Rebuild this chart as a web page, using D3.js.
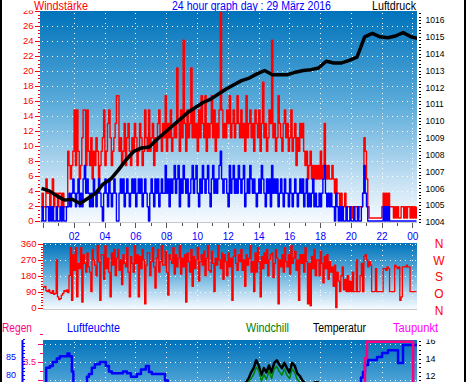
<!DOCTYPE html>
<html>
<head>
<meta charset="utf-8">
<script src="https://cdn.jsdelivr.net/npm/d3@7"></script>
<style>
  body { margin: 0; background: #fff; }
  svg { display: block; }
</style>
</head>
<body>
<div id="chart"></div>
<script>
// samples start just before midnight; wind every 5 minutes, temperature every 10
const sampleStart = -0.15;
const fastStep = 1 / 12;
const slowStep = 1 / 6;

// wind gusts (red) and mean wind (blue), km/h, one row per hour
const gust = [
    1.9, 3.7, 1.9, 1.9, 5.6, 3.7, 3.7, 1.9, 3.7, 5.6, 1.9, 3.7,
    3.7, 1.9, 3.7, 3.7, 1.9, 3.7, 1.9, 1.9, 1.9, 9.3, 7.4, 5.6,
    7.4, 9.3, 14.8, 7.4, 14.8, 9.3, 5.6, 7.4, 11.1, 14.8, 14.8, 7.4,
    14.8, 9.3, 7.4, 11.1, 5.6, 9.3, 7.4, 11.1, 9.3, 5.6, 7.4, 9.3,
    11.1, 14.8, 7.4, 9.3, 13.0, 14.8, 11.1, 7.4, 9.3, 11.1, 13.0, 16.7,
    16.7, 9.3, 11.1, 7.4, 9.3, 13.0, 7.4, 11.1, 13.0, 9.3, 7.4, 11.1,
    9.3, 13.0, 11.1, 7.4, 9.3, 13.0, 11.1, 7.4, 9.3, 14.8, 11.1, 9.3,
    14.8, 9.3, 11.1, 13.0, 7.4, 11.1, 9.3, 13.0, 14.8, 11.1, 9.3, 13.0,
    11.1, 16.7, 9.3, 13.0, 11.1, 14.8, 9.3, 11.1, 13.0, 11.1, 20.4, 13.0,
    9.3, 14.8, 11.1, 24.1, 13.0, 9.3, 14.8, 11.1, 13.0, 20.4, 11.1, 14.8,
    11.1, 13.0, 9.3, 14.8, 11.1, 16.7, 13.0, 11.1, 16.7, 9.3, 13.0, 11.1,
    13.0, 16.7, 11.1, 14.8, 9.3, 13.0, 11.1, 14.8, 27.8, 14.8, 11.1, 13.0,
    11.1, 14.8, 13.0, 16.7, 11.1, 13.0, 14.8, 11.1, 13.0, 16.7, 13.0, 11.1,
    14.8, 11.1, 13.0, 9.3, 16.7, 11.1, 13.0, 14.8, 11.1, 13.0, 9.3, 14.8,
    13.0, 11.1, 14.8, 9.3, 13.0, 18.5, 11.1, 13.0, 9.3, 11.1, 14.8, 13.0,
    24.1, 11.1, 13.0, 9.3, 11.1, 16.7, 13.0, 11.1, 9.3, 13.0, 14.8, 11.1,
    13.0, 9.3, 11.1, 14.8, 9.3, 11.1, 13.0, 7.4, 11.1, 9.3, 13.0, 11.1,
    13.0, 9.3, 7.4, 9.3, 5.6, 7.4, 9.3, 5.6, 7.4, 5.6, 7.4, 5.6,
    7.4, 5.6, 9.3, 5.6, 7.4, 13.0, 7.4, 5.6, 7.4, 5.6, 5.6, 7.4,
    5.6, 3.7, 5.6, 3.7, 3.7, 1.9, 3.7, 1.9, 1.9, 3.7, 1.9, 1.9,
    1.9, 1.9, 1.9, 0.4, 1.9, 1.9, 1.9, 0.4, 1.9, 1.9, 1.9, 3.7,
    11.1, 9.3, 5.6, 1.9, 0.4, 0.4, 0.4, 0.4, 0.4, 0.4, 0.4, 0.4,
    0.4, 0.4, 1.9, 3.7, 1.9, 3.7, 1.9, 3.7, 1.9, 1.9, 1.9, 0.4,
    1.9, 0.4, 1.9, 0.4, 0.4, 1.9, 1.9, 0.4, 1.9, 0.4, 1.9, 1.9,
    0.4, 1.9, 0.4, 1.9, 0.4, 1.9
];
const wind = [
    0, 1.9, 0, 0, 1.9, 1.9, 0, 1.9, 0, 1.9, 0, 0,
    1.9, 0, 0, 1.9, 0, 1.9, 0, 0, 1.9, 1.9, 3.7, 1.9,
    3.7, 5.6, 3.7, 1.9, 3.7, 5.6, 1.9, 3.7, 1.9, 5.6, 7.4, 3.7,
    5.6, 3.7, 1.9, 3.7, 1.9, 5.6, 3.7, 1.9, 3.7, 5.6, 3.7, 1.9,
    0, 3.7, 5.6, 3.7, 1.9, 5.6, 3.7, 1.9, 3.7, 5.6, 3.7, 0,
    0, 3.7, 5.6, 3.7, 5.6, 1.9, 3.7, 5.6, 3.7, 1.9, 3.7, 5.6,
    3.7, 5.6, 1.9, 3.7, 5.6, 3.7, 5.6, 1.9, 3.7, 5.6, 3.7, 1.9,
    0, 3.7, 5.6, 3.7, 1.9, 5.6, 3.7, 5.6, 1.9, 3.7, 5.6, 3.7,
    3.7, 7.4, 3.7, 5.6, 1.9, 5.6, 3.7, 5.6, 7.4, 3.7, 5.6, 7.4,
    1.9, 5.6, 3.7, 7.4, 5.6, 3.7, 5.6, 1.9, 3.7, 5.6, 7.4, 3.7,
    5.6, 7.4, 3.7, 1.9, 5.6, 3.7, 7.4, 5.6, 3.7, 5.6, 7.4, 3.7,
    1.9, 5.6, 7.4, 3.7, 5.6, 3.7, 5.6, 7.4, 9.3, 5.6, 3.7, 5.6,
    5.6, 3.7, 1.9, 7.4, 3.7, 5.6, 7.4, 3.7, 5.6, 3.7, 7.4, 5.6,
    3.7, 5.6, 7.4, 1.9, 3.7, 5.6, 3.7, 7.4, 5.6, 3.7, 5.6, 3.7,
    1.9, 3.7, 5.6, 3.7, 7.4, 5.6, 3.7, 1.9, 5.6, 3.7, 5.6, 1.9,
    7.4, 3.7, 5.6, 3.7, 5.6, 1.9, 3.7, 5.6, 3.7, 1.9, 5.6, 3.7,
    3.7, 1.9, 5.6, 3.7, 1.9, 3.7, 5.6, 3.7, 1.9, 3.7, 5.6, 3.7,
    5.6, 1.9, 3.7, 5.6, 1.9, 3.7, 1.9, 3.7, 5.6, 1.9, 3.7, 1.9,
    1.9, 3.7, 1.9, 3.7, 5.6, 7.4, 3.7, 1.9, 3.7, 1.9, 3.7, 1.9,
    1.9, 0, 3.7, 1.9, 0, 1.9, 0, 1.9, 0, 0, 1.9, 0,
    0, 1.9, 0, 0, 1.9, 0, 0, 1.9, 0, 0, 1.9, 3.7,
    7.4, 3.7, 1.9, 0, 0, 0, 0, 0, 0, 0, 0, 0,
    0, 0, 0, 1.9, 0, 1.9, 0, 1.9, 0, 0, 0, 0,
    0, 0, 0, 0, 0, 0, 0, 0, 0, 0, 0, 0,
    0, 0, 0, 0, 0, 0
];
// wind direction, degrees, one row per hour
const windDir = [
    110, 100, 115, 120, 95, 90, 100, 85, 80, 95, 75, 80,
    270, 60, 45, 50, 70, 80, 95, 90, 100, 85, 180, 340,
    40, 300, 210, 340, 60, 250, 220, 340, 30, 300, 250, 200,
    310, 230, 200, 90, 330, 270, 240, 180, 350, 260, 40, 300,
    300, 160, 350, 220, 280, 200, 60, 310, 240, 330, 180, 280,
    330, 210, 270, 130, 300, 250, 230, 340, 200, 60, 290, 250,
    200, 350, 250, 300, 60, 290, 220, 330, 270, 20, 240, 310,
    310, 180, 260, 340, 230, 110, 280, 330, 200, 260, 350, 240,
    240, 320, 200, 70, 300, 270, 250, 340, 190, 300, 230, 280,
    350, 190, 280, 230, 300, 30, 310, 260, 200, 330, 120, 290,
    220, 270, 340, 150, 260, 300, 240, 320, 180, 280, 350, 210,
    200, 320, 250, 90, 280, 240, 350, 270, 220, 310, 160, 300,
    260, 180, 310, 230, 280, 40, 290, 330, 250, 210, 300, 260,
    330, 210, 270, 120, 300, 240, 280, 350, 200, 260, 90, 310,
    200, 340, 260, 60, 290, 220, 310, 250, 330, 180, 270, 300,
    310, 170, 250, 330, 280, 20, 270, 230, 300, 200, 340, 260,
    230, 300, 190, 350, 250, 280, 320, 210, 270, 40, 300, 250,
    300, 200, 340, 260, 20, 250, 10, 290, 220, 330, 180, 270,
    270, 180, 320, 250, 140, 290, 220, 300, 160, 260, 200, 230,
    120, 240, 0, 200, 150, 90, 180, 230, 100, 160, 90, 180,
    90, 150, 90, 200, 90, 90, 270, 90, 90, 180, 250, 90,
    290, 300, 270, 230, 260, 240, 90, 90, 90, 220, 90, 90,
    90, 90, 90, 220, 220, 210, 230, 220, 90, 90, 90, 90,
    240, 230, 220, 230, 40, 60, 230, 230, 230, 240, 230, 230,
    90, 90, 90, 90, 90, 90
];
// temperature and windchill, deg C, 10 minute samples
const temperature = [
    6.8, 6.7, 6.6, 6.6, 6.5, 6.5, 6.4, 6.4, 6.3, 6.3, 6.2, 6.2,
    6.1, 6.1, 6.0, 6.0, 6.1, 6.1, 6.2, 6.2, 6.3, 6.3, 6.4, 6.5,
    6.6, 6.7, 6.8, 6.9, 7.0, 7.1, 7.2, 7.4, 7.5, 7.7, 7.8, 8.0,
    8.1, 8.3, 8.4, 8.6, 8.7, 8.9, 9.0, 9.1, 9.3, 9.4, 9.5, 9.6,
    9.7, 9.8, 9.9, 10.0, 10.1, 10.1, 10.2, 10.3, 10.3, 10.4, 10.4, 10.5,
    10.5, 10.6, 10.6, 10.7, 10.7, 10.8, 10.8, 10.9, 10.9, 10.9, 11.0, 10.9,
    10.9, 10.8, 10.9, 10.8, 10.9, 10.8, 10.9,
    11.0, 11.3, 11.7, 12.4, 12.9, 13.8, 13.2, 12.1, 12.9, 12.4, 13.2, 12.4,
    13.5, 13.8, 13.3, 12.9, 13.5, 12.9, 12.4, 13.5, 13.2, 12.3, 12.0, 11.5,
    11.2, 11.0, 10.9,
    11.1, 11.3, 11.3, 11.0, 10.8, 10.6, 10.4, 10.2, 10.0, 9.8, 9.6, 9.4,
    9.2, 9.0, 8.9, 8.8, 8.7, 8.6, 8.5, 8.4, 8.3, 8.2, 8.1, 8.0,
    7.9, 7.8, 7.7, 7.6, 7.5, 7.4, 7.3, 7.2, 7.1, 7.0, 6.9, 6.8,
    6.7, 6.6, 6.5, 6.4, 6.3
];
const windchill = [
    5.2, 5.0, 5.1, 4.9, 4.8, 4.9, 4.7, 4.8, 4.6, 4.7, 4.5, 4.6,
    4.4, 4.1, 3.9, 4.2, 4.0, 4.3, 4.1, 4.4, 4.6, 4.3, 4.8, 4.9,
    5.0, 5.1, 5.3, 5.2, 5.6, 5.5, 5.9, 6.0, 6.2, 6.1, 6.5, 6.7,
    6.8, 7.0, 7.1, 7.4, 7.3, 7.6, 7.8, 7.7, 8.1, 8.2, 8.4, 8.5,
    8.6, 8.8, 8.9, 9.1, 9.0, 9.3, 9.4, 9.3, 9.6, 9.7, 9.6, 9.9,
    9.8, 10.0, 9.9, 10.1, 10.0, 10.2, 10.1, 10.3, 10.2, 10.4, 10.3, 10.4,
    10.3, 10.2, 10.4, 10.3, 10.4, 10.3, 10.5, 10.6,
    10.9, 11.3, 11.7, 12.2, 13.0, 12.6, 11.4, 12.2, 11.6, 12.6, 11.7, 12.8,
    13.1, 12.5, 12.1, 12.8, 12.1, 11.7, 12.8, 12.4, 11.6, 11.3, 10.9, 10.7,
    10.5, 10.4,
    10.5, 10.7, 10.6, 10.3, 10.1, 9.9, 9.7, 9.5, 9.3, 9.1, 8.9, 8.7,
    8.5, 8.3, 8.2, 8.1, 8.0, 7.9, 7.8, 7.7, 7.6, 7.5, 7.4, 7.3,
    7.2, 7.1, 7.0, 6.9, 6.8, 6.7, 6.6, 6.5, 6.4, 6.3, 6.2, 6.1,
    6.0, 5.9, 5.8, 5.7, 5.6
];

// air pressure, half hourly, hPa
const pressStart = -0.1;
const pressStep = 0.5;
const pressure = [
    1006.0, 1005.85, 1005.55, 1005.3, 1005.35, 1005.1, 1005.4, 1005.7, 1006.25, 1006.55,
    1007.1, 1007.7, 1008.2, 1008.4, 1008.45, 1008.9, 1009.3, 1009.7, 1010.1, 1010.5,
    1010.8, 1011.1, 1011.3, 1011.6, 1011.9, 1012.15, 1012.4, 1012.55, 1012.8, 1013.0,
    1012.75, 1012.75, 1012.75, 1012.9, 1013.0, 1013.05, 1013.15, 1013.55, 1013.45, 1013.45,
    1013.6, 1013.8, 1015.0, 1015.2, 1015.0, 1014.95, 1015.05, 1015.25, 1015.0, 1014.9
];

// humidity (%) and rain (mm) change points
const humHours = [-0.15, 0.2, 0.44, 0.63, 0.89, 1.09, 1.58, 1.71, 1.87, 1.97, 2.07, 2.6, 2.75, 2.85,
    2.98, 3.17, 3.37, 3.69, 4.08, 4.28, 4.47, 5.19, 5.45, 5.71, 6.10, 6.36, 6.68, 6.88, 7.07, 7.92,
    8.11, 8.5, 10, 12, 14, 16, 18, 19.5, 20.3, 20.53, 20.66, 20.79, 20.92, 21.12, 21.70, 22.03,
    22.42, 23.07, 23.39, 24.4];
const humidity = [76, 82, 82.5, 83.6, 84.6, 85.2, 86.0, 85.2, 81, 77, 72, 70, 75, 79.5,
    80.3, 82, 83, 83.6, 82.5, 81, 80.5, 81, 80.5, 79.5, 80.3, 81.5, 82.5, 80.8, 80.3, 78.5,
    74, 70, 64, 58, 55, 57, 62, 68, 73, 76, 79.3, 80.8, 82.8, 84.2, 85, 86.1,
    86.9, 83.3, 88.3, 88.3];
const rainHours = [-0.15, 20.92, 21.05, 24.05, 24.4];
const rain = [0, 3.6, 4.05, 0, 0];

// axes
const hourTicks = [2, 4, 6, 8, 10, 12, 14, 16, 18, 20, 22, 24];
const hourLabels = ["02", "04", "06", "08", "10", "12", "14", "16", "18", "20", "22", "00"];
const windTicks = [0, 2, 4, 6, 8, 10, 12, 14, 16, 18, 20, 22, 24, 26, 28];
const pressTicks = [1004, 1005, 1006, 1007, 1008, 1009, 1010, 1011, 1012, 1013, 1014, 1015, 1016];
const dirTicks = [0, 90, 180, 270, 360];
const compass = ["N", "W", "S", "O", "N2"];
const humLabels = [80, 85];
const rainLabels = [3.5];
const tempLabels = [12, 14, 16];

const svg = d3.select("#chart").append("svg")
    .attr("width", 470).attr("height", 382)
    .style("font-family", "'Liberation Sans', Arial, sans-serif");
const defs = svg.append("defs");

const sky = defs.append("linearGradient").attr("id", "sky")
    .attr("x1", 0).attr("y1", 0).attr("x2", 0).attr("y2", 1);
sky.append("stop").attr("offset", 0).attr("stop-color", "#0073bb");
sky.append("stop").attr("offset", 0.45).attr("stop-color", "#5eaddb");
sky.append("stop").attr("offset", 0.8).attr("stop-color", "#c4e0f3");
sky.append("stop").attr("offset", 1).attr("stop-color", "#f7fbff");

svg.append("rect").attr("width", 470).attr("height", 382).attr("fill", "#fff");

const xTime = d3.scaleLinear().domain([-0.2, 24.3]).range([40, 417]);
const yWind = d3.scaleLinear().domain([0, 28]).range([221, 11]);
const yPress = d3.scaleLinear().domain([1004, 1016]).range([222, 20]);
const yDir = d3.scaleLinear().domain([0, 360]).range([307.5, 244]);
const yHum = d3.scaleLinear().domain([80, 85]).range([375, 357]);
const yRain = d3.scaleLinear().domain([3.5, 4]).range([362, 343.6]);
const yTemp = d3.scaleLinear().domain([12, 16]).range([376, 341]);

const pTop = { id: "top", x0: 40, x1: 417, y0: 11, y1: 222 };
const pMid = { id: "mid", x0: 43, x1: 417, y0: 243, y1: 309 };
const pBot = { id: "bot", x0: 43, x1: 417, y0: 340, y1: 452 };

const px = v => Math.round(v) + 0.5;

// small tick marks on a vertical axis
const tickMarks = (values, scale, xFrom, xTo, color, isMajor, majorFrom) => {
    svg.append("g").attr("stroke", color)
        .selectAll("line").data(values).join("line")
        .attr("x1", d => isMajor(d) ? majorFrom : xFrom).attr("x2", xTo)
        .attr("y1", d => px(scale(d))).attr("y2", d => px(scale(d)));
};
const tickLabels = (values, scale, x, anchor, color, size, fmt) => {
    svg.append("g").attr("fill", color).attr("font-size", size).attr("text-anchor", anchor)
        .selectAll("text").data(values).join("text")
        .attr("x", x).attr("y", d => scale(d) + 3.3)
        .text(fmt || (d => d));
};
const isInt = d => Math.abs(d - Math.round(d)) < 1e-6;

// ---- axes of top panel
tickMarks(yWind.ticks(56), yWind, 38, 40, "#f00", d => d % 2 === 0, 35);
tickLabels(windTicks, yWind, 33.5, "end", "#f00", 9.5);
tickMarks(yPress.ticks(60).concat([1016.2, 1016.4]), yPress, 419, 421, "#000", isInt, 419);
tickLabels(pressTicks, yPress, 425.5, "start", "#000", 8.5);

svg.append("g").attr("stroke", "#555")
    .selectAll("line").data(d3.range(0, 25)).join("line")
    .attr("x1", d => px(xTime(d))).attr("x2", d => px(xTime(d)))
    .attr("y1", 223).attr("y2", d => d % 2 === 0 ? 228 : 226);
svg.append("g").attr("fill", "#00f").attr("font-size", 10).attr("text-anchor", "middle")
    .selectAll("text").data(hourTicks).join("text")
    .attr("x", d => xTime(d) + 0.5).attr("y", 239.5)
    .text((d, i) => hourLabels[i]);

// ---- axes of middle panel
tickMarks(d3.range(0, 361, 15), yDir, 41, 43, "#f00", d => d % 90 === 0, 38);
tickLabels(dirTicks, yDir, 36.5, "end", "#f00", 9.5);
const yCompass = d3.scalePoint().domain(compass).range([248, 314.5]);
svg.append("g").attr("fill", "#f00").attr("font-size", 12).attr("text-anchor", "middle")
    .selectAll("text").data(compass).join("text")
    .attr("x", 439).attr("y", d => yCompass(d))
    .text(d => d.charAt(0));

// ---- axes of bottom panel
svg.append("line").attr("x1", 22.5).attr("x2", 22.5).attr("y1", 340).attr("y2", 382)
    .attr("stroke", "#00f").attr("stroke-width", 2);
tickMarks(d3.range(70, 91, 1), yHum, 23, 25, "#00f", d => d % 5 === 0, 23);
tickLabels(humLabels, yHum, 16, "end", "#00f", 9);
tickMarks(d3.range(3, 4.3, 0.25), yRain, 40, 43, "#ff0080", d => d % 0.5 === 0, 38);
tickLabels(rainLabels, yRain, 36, "end", "#ff0080", 9, d => d.toFixed(1));
tickMarks(d3.range(11, 16.6, 0.5), yTemp, 419, 421, "#000", d => d % 2 === 0, 419);
tickLabels(tempLabels, yTemp, 425.5, "start", "#000", 9);

// white strips hide what sticks out above the panels
svg.append("rect").attr("x", 2).attr("y", 0).attr("width", 463).attr("height", 10.5).attr("fill", "#fff");
svg.append("rect").attr("x", 418).attr("y", 317).attr("width", 47).attr("height", 22.5).attr("fill", "#fff");

// ---- titles and legend
const label = (txt, x, y, color, len) => svg.append("text")
    .attr("x", x).attr("y", y).attr("fill", color).attr("font-size", 12)
    .attr("textLength", len).attr("lengthAdjust", "spacingAndGlyphs").text(txt);
label("Windstärke", 34, 9.5, "#f00", 54);
label("24 hour graph day : 29 März 2016", 172, 9.5, "#00f", 159);
label("Luftdruck", 372, 9.5, "#000", 44);
label("Regen", 2, 331.5, "#ff0080", 30);
label("Luftfeuchte", 67, 331.5, "#00f", 53);
label("Windchill", 246, 331.5, "#008000", 43);
label("Temperatur", 313, 331.5, "#000", 53);
label("Taupunkt", 393, 331.5, "#ff00ff", 45);

// ---- panels
const drawPanel = (p, gridYs) => {
    defs.append("clipPath").attr("id", "clip-" + p.id).append("rect")
        .attr("x", p.x0).attr("y", p.y0).attr("width", p.x1 - p.x0).attr("height", p.y1 - p.y0);
    svg.append("rect").attr("x", p.x0).attr("y", p.y0)
        .attr("width", p.x1 - p.x0).attr("height", p.y1 - p.y0).attr("fill", "url(#sky)");
    svg.append("line").attr("x1", p.x0).attr("x2", p.x1).attr("y1", p.y1 + 0.5).attr("y2", p.y1 + 0.5)
        .attr("stroke", "#c8c8c8");
    const g = svg.append("g").attr("clip-path", `url(#clip-${p.id})`);
    const grid = g.append("g").attr("stroke", "#fff").attr("stroke-dasharray", "1,4");
    grid.selectAll(".h").data(gridYs).join("line").attr("class", "h")
        .attr("x1", p.x0 + 2).attr("x2", p.x1).attr("y1", d => px(d)).attr("y2", d => px(d));
    grid.selectAll(".v").data(hourTicks).join("line").attr("class", "v")
        .attr("x1", d => px(xTime(d))).attr("x2", d => px(xTime(d))).attr("y1", p.y0 + 2).attr("y2", p.y1);
    return g;
};

const fastX = (d, i) => xTime(sampleStart + i * fastStep);
const slowX = (d, i) => xTime(sampleStart + i * slowStep);
const path = (g, data, line, color, width) => g.append("path").datum(data)
    .attr("d", line).attr("fill", "none").attr("stroke", color).attr("stroke-width", width)
    .attr("stroke-linejoin", "round");

// top: wind and pressure
const gTop = drawPanel(pTop, windTicks.filter(d => d > 0 && d < 28).map(yWind));
path(gTop, gust, d3.line().x(fastX).y(d => yWind(d)).curve(d3.curveStepAfter), "#f00", 1.4);
path(gTop, wind, d3.line().x(fastX).y(d => yWind(d)).curve(d3.curveStepAfter), "#00f", 1.4);
path(gTop, pressure, d3.line().x((d, i) => xTime(pressStart + i * pressStep)).y(d => yPress(d)), "#000", 3.5);

// middle: wind direction
const gMid = drawPanel(pMid, dirTicks.filter(d => d > 0).map(yDir));
path(gMid, windDir, d3.line().x(fastX).y(d => yDir(d)).curve(d3.curveStepAfter), "#f00", 1.3);

// bottom: humidity, rain, temperature
const gBot = drawPanel(pBot, [3, 3.5, 4, 4.5].map(yRain));
path(gBot, humidity, d3.line().x((d, i) => xTime(humHours[i])).y(d => yHum(d)).curve(d3.curveStepAfter), "#0000ff", 2.5);
path(gBot, temperature, d3.line().x(slowX).y(d => yTemp(d)), "#000", 2.5);
path(gBot, windchill, d3.line().x(slowX).y(d => yTemp(d)), "#008000", 1.5);
path(gBot, rain, d3.line().x((d, i) => xTime(rainHours[i])).y(d => yRain(d)).curve(d3.curveStepAfter), "#ff0080", 2.5);

// frame
svg.append("rect").attr("x", 0).attr("y", 0).attr("width", 2).attr("height", 382).attr("fill", "#000");
svg.append("rect").attr("x", 464).attr("y", 0).attr("width", 2).attr("height", 382).attr("fill", "#000");
</script>
</body>
</html>
